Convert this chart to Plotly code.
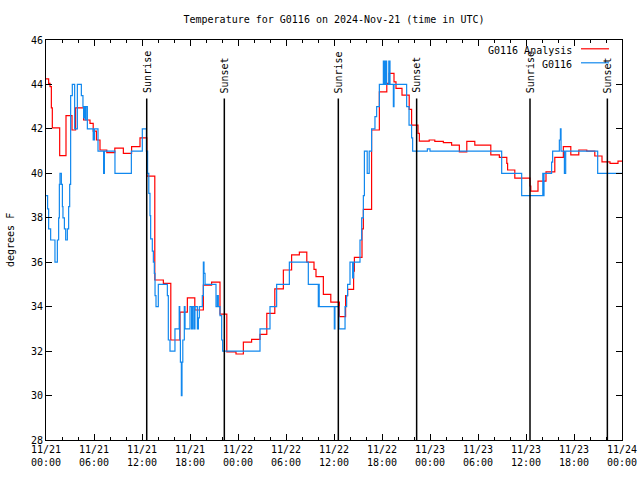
import pandas as pd
import plotly.graph_objects as go

# ---- data (hours since 2024-11-21 00:00 UTC) ----
red_hours = [0.0, 0.33, 0.5, 0.67, 0.79, 1.71, 2.5, 3.25, 3.7, 4.7, 5.5, 5.9, 6.3, 6.75, 7.6, 8.6, 9.67, 10.7, 11.75, 12.6,
             13.6, 14.67, 15.6, 16.75, 17.67, 18.6, 19.67, 20.7, 21.75, 22.6, 23.75, 24.67, 25.7, 26.75, 27.6, 28.6, 29.67,
             30.7, 31.67, 32.6, 33.5, 33.75, 34.67, 35.6, 36.67, 37.45, 37.7, 38.45, 38.55, 39.5, 39.67, 40.7, 41.67, 42.6,
             42.9, 43.5, 43.75, 44.5, 45.4, 45.7, 46.5, 46.67, 47.9, 48.6, 49.67, 50.7, 51.67, 52.6, 53.6, 55.6, 56.67, 57.6,
             57.7, 58.6, 60.5, 60.6, 61.5, 62.5, 63.6, 64.67, 65.6, 66.6, 67.6, 68.6, 69.5, 70.5, 71.5, 72.0]
red_temps = [44.25, 44.05, 43.9, 42.95, 42.05, 40.8, 42.6, 41.95, 42.95, 42.4, 42.25, 41.9, 41.5, 41.05, 40.93, 41.13, 40.9,
             41.2, 41.6, 39.87, 35.2, 35.05, 32.5, 33.75, 34.4, 33.85, 34.97, 35.1, 33.66, 31.97, 31.87, 32.4, 32.53, 32.75,
             33.7, 34.8, 35.65, 36.33, 36.45, 36.0, 35.68, 35.35, 34.55, 34.2, 33.55, 34.5, 34.78, 35.6, 36.22, 37.5, 38.38,
             41.95, 43.67, 44.05, 44.5, 44.12, 43.82, 43.52, 42.88, 42.17, 41.8, 41.45, 41.5, 41.44, 41.38, 41.27, 40.97,
             41.44, 41.27, 40.83, 40.72, 40.45, 40.15, 39.78, 39.43, 39.2, 39.65, 40.07, 40.72, 41.2, 40.83, 41.05, 41.0,
             40.78, 40.52, 40.45, 40.55, 40.55]

blue_hours = [0.0, 0.2, 0.33, 0.58, 1.12, 1.42, 1.58, 1.67, 1.75, 1.92, 2.05, 2.12, 2.3, 2.46, 2.67, 2.83, 2.96, 3.08, 3.29,
              3.58, 3.92, 4.42, 4.62, 4.7, 4.8, 4.9, 5.0, 5.17, 5.9, 6.05, 6.5, 7.2, 7.3, 8.62, 10.67, 12.04, 12.55, 12.7,
              12.85, 13.0, 13.08, 13.29, 13.42, 13.54, 13.63, 13.75, 14.04, 15.17, 15.29, 15.5, 16.12, 16.65, 16.72, 16.8,
              16.92, 17.0, 17.1, 17.29, 17.38, 18.0, 18.2, 18.33, 18.5, 18.62, 18.92, 19.05, 19.17, 19.54, 19.67, 19.75,
              19.88, 21.25, 21.42, 21.54, 21.75, 21.96, 22.08, 26.75, 28.0, 28.83, 30.42, 32.79, 34.04, 34.1, 34.15, 36.04,
              36.12, 36.62, 37.38, 37.58, 37.7, 38.0, 38.33, 38.45, 39.25, 39.46, 39.67, 39.8, 40.15, 40.4, 40.7, 41.12,
              41.33, 41.67, 42.17, 42.3, 42.45, 42.58, 42.85, 43.0, 43.42, 43.5, 45.08, 45.38, 45.7, 45.83, 47.67, 48.0,
              56.96, 59.46, 62.1, 62.17, 62.25, 63.2, 63.33, 64.17, 64.3, 64.38, 64.8, 64.96, 68.96, 72.0]
blue_temps = [39.0, 38.4, 37.5, 37.0, 36.0, 37.0, 38.0, 39.5, 40.0, 39.5, 38.5, 38.0, 37.5, 37.0, 37.5, 38.5, 39.5, 43.5, 44.0,
              42.0, 44.0, 43.5, 43.0, 42.5, 43.0, 42.4, 43.0, 42.0, 41.5, 42.0, 41.0, 40.0, 41.0, 40.0, 41.0, 42.0, 41.0, 40.0,
              39.1, 38.1, 37.05, 36.5, 36.0, 35.5, 34.5, 34.0, 35.0, 34.5, 32.5, 32.0, 33.0, 34.0, 32.5, 31.5,
              30.0, 31.5, 32.5, 34.0, 33.0, 34.0, 33.0, 34.0, 33.0, 34.0, 33.0, 33.5, 34.0, 34.5, 36.0, 35.5,
              35.0, 34.0, 34.5, 34.0, 33.6, 32.5, 32.0, 33.0, 34.0, 35.0, 36.0, 35.0, 34.0, 35.0, 34.0, 33.0,
              34.0, 33.0, 34.0, 34.5, 35.0, 36.0, 35.3, 36.0, 37.0, 38.0, 39.0, 41.0, 40.0, 41.0, 42.0, 42.55,
              43.0, 44.0, 45.05, 44.0, 45.05, 44.0, 45.05, 44.0, 43.0, 44.0, 43.0, 42.17, 41.6, 41.0, 41.1, 41.0,
              40.0, 39.0, 40.0, 39.0, 40.0, 40.5, 41.0, 41.5, 42.0, 41.0, 40.0, 41.0, 40.0, 40.0]

sun_labels = ["Sunrise", "Sunset", "Sunrise", "Sunset", "Sunrise", "Sunset"]
sun_hours = [12.59, 22.29, 36.54, 46.33, 60.5, 70.17]

y_ticks = [28, 30, 32, 34, 36, 38, 40, 42, 44, 46]

assert len(red_hours) == len(red_temps)
assert len(blue_hours) == len(blue_temps)

t0 = pd.Timestamp("2024-11-21 00:00")
t_end = pd.Timestamp("2024-11-24 00:00")


def to_time(hours):
    return [t0 + pd.Timedelta(hours=h) for h in hours]


FONT = "DejaVu Sans Mono"
RED = "#ff0000"
BLUE = "#1188ee"

fig = go.Figure()
fig.add_trace(go.Scatter(x=to_time(red_hours), y=red_temps, mode="lines", name="G0116 Analysis",
                         line=dict(color=RED, width=1.2, shape="hv")))
fig.add_trace(go.Scatter(x=to_time(blue_hours), y=blue_temps, mode="lines", name="G0116",
                         line=dict(color=BLUE, width=1.2, shape="hv")))

line_top = 0.854
for lbl, h in zip(sun_labels, sun_hours):
    t = t0 + pd.Timedelta(hours=h)
    fig.add_shape(type="line", xref="x", yref="paper", x0=t, x1=t, y0=0, y1=line_top,
                  line=dict(color="black", width=1.5))
    fig.add_annotation(x=t, xref="x", y=line_top + 0.008, yref="paper", text=lbl, textangle=-90,
                       showarrow=False, xanchor="center", yanchor="bottom",
                       font=dict(family=FONT, size=10, color="black"))

# legend (gnuplot style: text then sample line)
leg = [("G0116 Analysis", RED, 0.975), ("G0116", BLUE, 0.94)]
for txt, col, yy in leg:
    fig.add_annotation(x=0.9167, xref="paper", y=yy, yref="paper", text=txt, showarrow=False,
                       xanchor="right", yanchor="middle", font=dict(family=FONT, size=10, color="black"))
    fig.add_shape(type="line", xref="paper", yref="paper", x0=0.9288, x1=0.9774, y0=yy + 0.003, y1=yy + 0.003,
                  line=dict(color=col, width=1.2))

fig.add_annotation(x=-0.0625, xref="paper", y=0.5, yref="paper", text="degrees F", textangle=-90,
                   showarrow=False, xanchor="center", yanchor="middle",
                   font=dict(family=FONT, size=10, color="black"))

fig.update_layout(
    width=640, height=480,
    margin=dict(l=46, r=18, t=40, b=40),
    paper_bgcolor="white", plot_bgcolor="white",
    showlegend=False,
    font=dict(family=FONT, size=10, color="black"),
    title=dict(text="Temperature for G0116 on 2024-Nov-21 (time in UTC)", x=0.5, xref="paper",
               xanchor="center", y=1 - 19 / 480, yanchor="middle", font=dict(family=FONT, size=10, color="black")),
    xaxis=dict(type="date", range=[t0, t_end], tick0=t0, dtick=6 * 3600 * 1000, tickformat="%m/%d<br>%H:%M",
               ticks="inside", ticklen=6, tickcolor="black", showline=True, linecolor="black", linewidth=1,
               mirror="allticks", showgrid=False, zeroline=False, automargin=False,
               minor=dict(dtick=2 * 3600 * 1000, ticks="inside", ticklen=3, tickcolor="black", showgrid=False),
               tickfont=dict(family=FONT, size=10, color="black")),
    yaxis=dict(range=[28, 46], tickvals=y_ticks, ticks="inside", ticklen=6, tickcolor="black",
               showline=True, linecolor="black", linewidth=1, mirror="allticks", showgrid=False, zeroline=False,
               automargin=False, tickfont=dict(family=FONT, size=10, color="black")),
)

fig.write_html("out.html", config={"displayModeBar": False},
               post_script="document.body.style.margin='0px';")
